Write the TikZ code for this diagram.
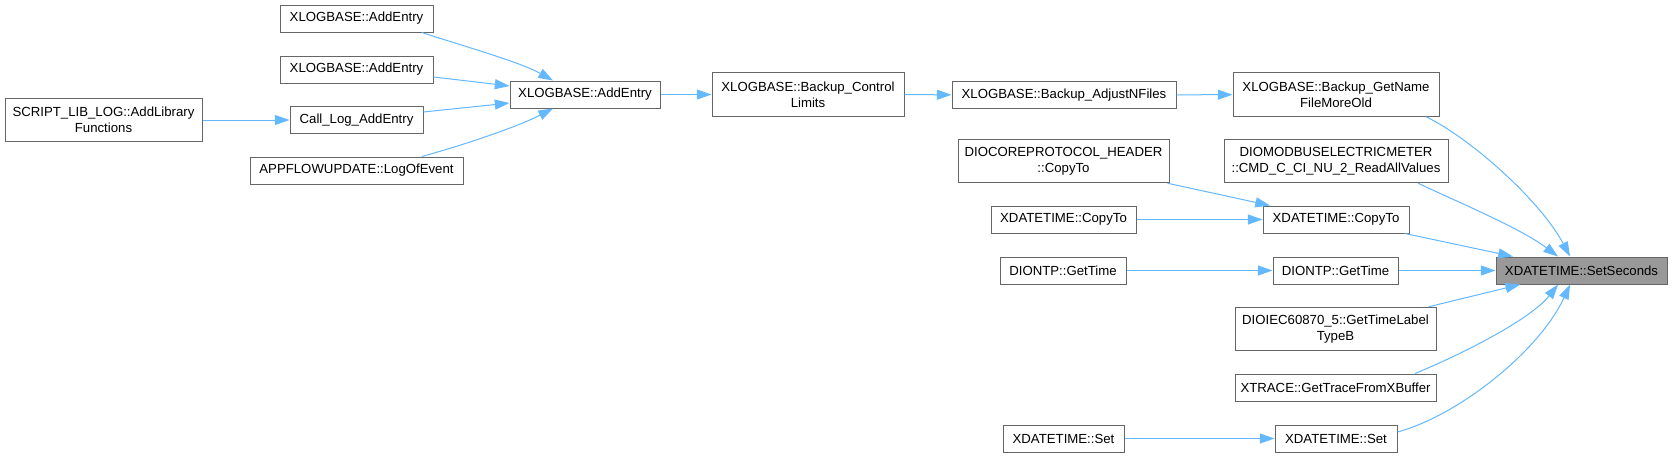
\documentclass[tikz,border=0pt]{standalone}
\usepackage{fontspec}
\setmainfont{Liberation Sans}
\usetikzlibrary{arrows.meta}
\definecolor{edgeblue}{HTML}{63B8FF}
\definecolor{boxgray}{HTML}{666666}
\definecolor{focusgray}{HTML}{999999}

\begin{document}
\begin{tikzpicture}[x=0.75pt,y=-0.75pt,
  fnbox/.style={draw=boxgray,fill=white,line width=0.75pt,inner sep=0pt,
    minimum height=20.25pt,align=center,font=\fontsize{9.9}{12}\selectfont},
  fnbox2/.style={fnbox,minimum height=32.6pt},
  fnfocus/.style={fnbox,fill=focusgray},
  callarr/.style={draw=edgeblue,line width=0.75pt,-{Triangle[length=11pt,width=7.5pt]}}]
\fill[white] (0,0) rectangle (1673,457);
\useasboundingbox (0,0) rectangle (1673,457);

% left part: callers of AddEntry
\node[fnbox2,minimum width=147.75pt] (script) at (103.5,120) {SCRIPT\_LIB\_LOG::AddLibrary\\Functions};
\node[fnbox,minimum width=114.75pt] (addA) at (356.5,18.5) {XLOGBASE::AddEntry};
\node[fnbox,minimum width=114.75pt] (addB) at (356.5,69.5) {XLOGBASE::AddEntry};
\node[fnbox,minimum width=99.75pt] (calllog) at (356.5,120) {Call\_Log\_AddEntry};
\node[fnbox,minimum width=159.75pt] (appflow) at (356.5,170.5) {APPFLOWUPDATE::LogOfEvent};
\node[fnbox,minimum width=112.5pt] (addentry) at (585,94.5) {XLOGBASE::AddEntry};

% backup chain
\node[fnbox2,minimum width=144pt] (bkctrl) at (808,94.5) {XLOGBASE::Backup\_Control\\Limits};
\node[fnbox,minimum width=168pt] (bkadjust) at (1064,95) {XLOGBASE::Backup\_AdjustNFiles};
\node[fnbox2,minimum width=154.5pt] (bkname) at (1336,94.5) {XLOGBASE::Backup\_GetName\\FileMoreOld};

% right part: callers of SetSeconds
\node[fnbox2,minimum width=158.25pt] (corecopy) at (1063.5,161) {DIOCOREPROTOCOL\_HEADER\\::CopyTo};
\node[fnbox2,minimum width=168pt] (modbus) at (1336,161) {DIOMODBUSELECTRICMETER\\::CMD\_C\_CI\_NU\_2\_ReadAllValues};
\node[fnbox,minimum width=108.75pt] (copyA) at (1063.5,219.5) {XDATETIME::CopyTo};
\node[fnbox,minimum width=109.5pt] (copyB) at (1336,219.5) {XDATETIME::CopyTo};
\node[fnbox,minimum width=94.5pt] (ntpA) at (1063,270.5) {DIONTP::GetTime};
\node[fnbox,minimum width=93.75pt] (ntpB) at (1335.5,270.5) {DIONTP::GetTime};
\node[fnfocus,minimum width=128.25pt] (setsec) at (1581.5,270.5) {XDATETIME::SetSeconds};
\node[fnbox2,minimum width=150.75pt] (iec) at (1335.5,329) {DIOIEC60870\_5::GetTimeLabel\\TypeB};
\node[fnbox,minimum width=150.75pt] (xtrace) at (1335.5,387.5) {XTRACE::GetTraceFromXBuffer};
\node[fnbox,minimum width=90.75pt] (setA) at (1063.5,438.5) {XDATETIME::Set};
\node[fnbox,minimum width=91.5pt] (setB) at (1336,438.5) {XDATETIME::Set};

% straight calls
\foreach \a/\b in {script/calllog,addentry/bkctrl,bkctrl/bkadjust,bkadjust/bkname,
  copyA/copyB,ntpA/ntpB,ntpB/setsec,setA/setB}
\draw[callarr] (\a) -- (\b);

% the others
\draw[callarr] ([xshift=49pt]addA.south) .. controls (460,45) and (520,62) .. ([xshift=-24pt]addentry.north);
\draw[callarr] ([yshift=-5.6pt]addB.east) -- ([yshift=6.4pt]addentry.west);
\draw[callarr] ([yshift=6pt]calllog.east) -- ([yshift=-6.4pt]addentry.west);
\draw[callarr] ([xshift=49pt]appflow.north) .. controls (460,146) and (515,128) .. ([xshift=-24pt]addentry.south);

\draw[callarr] ([xshift=67.5pt]bkname.south) .. controls (1470,138) and (1540,200) .. ([xshift=-8.6pt]setsec.north);
\draw[callarr] ([xshift=61.5pt]modbus.south) .. controls (1460,203) and (1520,228) .. ([xshift=-17.6pt]setsec.north);
\draw[callarr] ([xshift=-1.5pt]corecopy.south east) -- ([xshift=-49.5pt]copyB.north);
\draw[callarr] ([xshift=51.75pt]copyB.south) -- ([xshift=-51.4pt]setsec.north);
\draw[callarr] ([xshift=69.75pt]iec.north) -- ([xshift=-46pt]setsec.south);
\draw[callarr] ([xshift=59.6pt]xtrace.north) .. controls (1460,355) and (1530,320) .. ([xshift=-17.6pt]setsec.south);
\draw[callarr] ([yshift=4.9pt]setB.east) .. controls (1460,415) and (1540,350) .. ([xshift=-8.6pt]setsec.south);
\end{tikzpicture}
\end{document}
